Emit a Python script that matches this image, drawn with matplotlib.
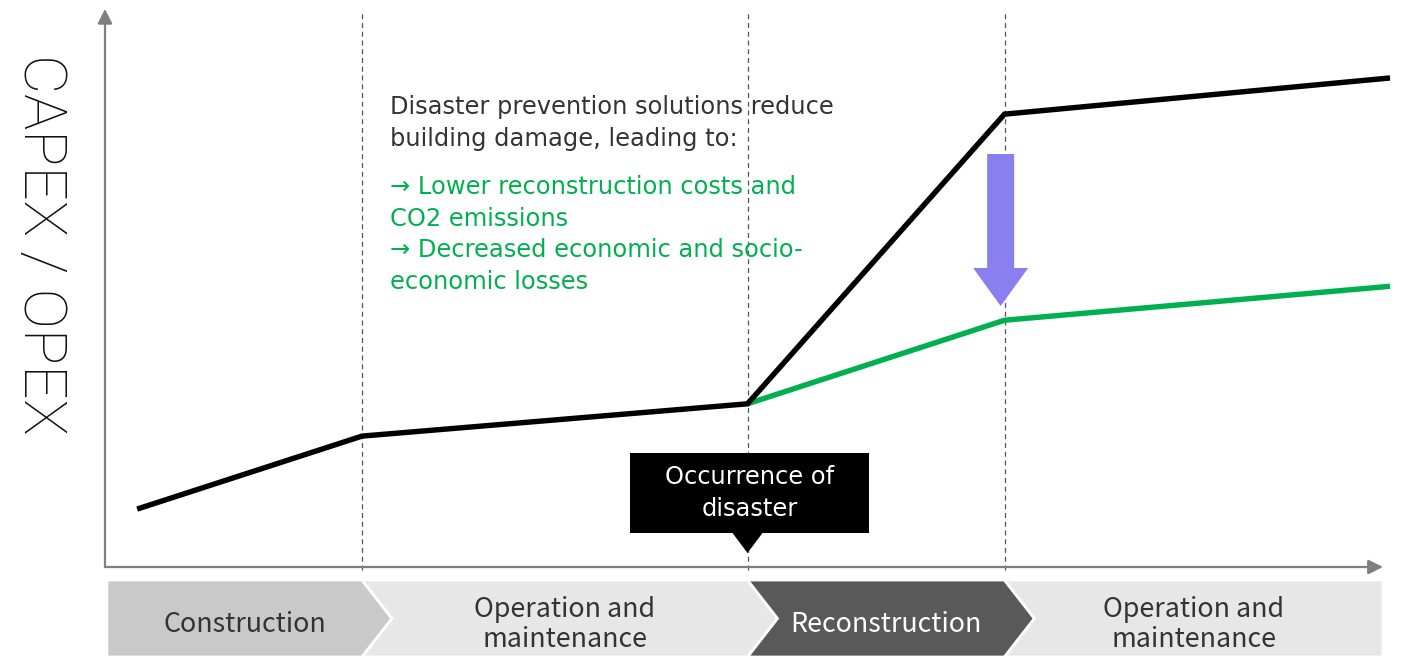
import matplotlib
matplotlib.use("Agg")
import matplotlib.pyplot as plt
from matplotlib.patches import Polygon

# ---- data ----
time_points = [2.5, 20, 50, 70, 100]
cost_without = [10.4, 23.5, 29.3, 81.3, 87.8]
time_with = [50, 70, 100]
cost_with = [29.3, 44.3, 50.4]
event_times = [20, 50, 70]
phase_bounds = [0.15, 20, 50, 70, 99.45]
phase_labels = ["Construction", "Operation and\nmaintenance", "Reconstruction", "Operation and\nmaintenance"]
phase_colors = ["#c9c9c9", "#e7e7e7", "#595959", "#e7e7e7"]
phase_text_colors = ["#333333", "#333333", "#ffffff", "#333333"]
ylabel = "CAPEX / OPEX"
note_lines = ["Disaster prevention solutions reduce", "building damage, leading to:"]
benefit_lines = ["\u2192 Lower reconstruction costs and", "CO2 emissions",
                 "\u2192 Decreased economic and socio-", "economic losses"]
event_label = "Occurrence of\ndisaster"

W, H = 1401, 657
fig = plt.figure(figsize=(W / 100, H / 100), dpi=100)

# main axes: pixels x 105..1390, y 10..567
ax = fig.add_axes([105 / W, (H - 567) / H, 1285 / W, 557 / H])
ax.set_xlim(0, 100)
ax.set_ylim(0, 100)
ax.axis("off")

font_note = ["DejaVu Sans"]
font_phase = ["Noto Sans CJK JP", "DejaVu Sans"]

# axes arrows
ax.annotate("", xy=(0, 100.2), xytext=(0, 0), xycoords="data",
            arrowprops=dict(arrowstyle="-|>", lw=1.6, color="#7f7f7f",
                            mutation_scale=22, shrinkA=0, shrinkB=0),
            annotation_clip=False)
ax.annotate("", xy=(99.45, 0), xytext=(0, 0), xycoords="data",
            arrowprops=dict(arrowstyle="-|>", lw=1.6, color="#7f7f7f",
                            mutation_scale=22, shrinkA=0, shrinkB=0),
            annotation_clip=False)

# dashed event lines
for t in event_times:
    ax.plot([t, t], [-0.6, 100], ls=(0, (4, 3)), lw=0.9, color="#555555",
            clip_on=False, zorder=1)

# cost lines
ax.plot(time_with, cost_with, color="#00b04f", lw=3.9, solid_capstyle="butt",
        solid_joinstyle="miter", clip_on=False, zorder=3)
ax.plot(time_points, cost_without, color="#000000", lw=3.9, solid_capstyle="butt",
        solid_joinstyle="miter", clip_on=False, zorder=4)

# purple reduction arrow
px_u = 1285 / 100.0
py_u = 557 / 100.0
xc = event_times[2] - 0.3
sw = 27 / px_u / 2
hw = 55 / px_u / 2
y_top = (567 - 154) / py_u
y_head = (567 - 268) / py_u
y_tip = (567 - 306) / py_u
arrow = Polygon([(xc - sw, y_top), (xc + sw, y_top), (xc + sw, y_head), (xc + hw, y_head),
                 (xc, y_tip), (xc - hw, y_head), (xc - sw, y_head)],
                closed=True, facecolor="#8a7ff0", edgecolor="none", zorder=5)
ax.add_patch(arrow)

# annotation text
tx = (390 - 105) / px_u
for i, line in enumerate(note_lines):
    ax.text(tx, (567 - (107 + 32 * i)) / py_u, line, color="#333333", fontsize=17.4,
            family=font_note, ha="left", va="center", zorder=6)
green_y = [187, 219, 250, 282]
for line, yy in zip(benefit_lines, green_y):
    ax.text(tx, (567 - yy) / py_u, line, color="#00b04f", fontsize=17.4,
            family=font_note, ha="left", va="center", zorder=6)

# event callout box
ev = event_times[1]
bx0 = (630 - 105) / px_u
bx1 = (869 - 105) / px_u
by0 = (567 - 533) / py_u
by1 = (567 - 453) / py_u
pw = 15 / px_u
ptip = (567 - 553) / py_u
box = Polygon([(bx0, by0), (bx0, by1), (bx1, by1), (bx1, by0), (ev + pw, by0),
               (ev, ptip), (ev - pw, by0)], closed=True, facecolor="black",
              edgecolor="none", zorder=6)
ax.add_patch(box)
ax.text((bx0 + bx1) / 2, (567 - 493) / py_u, event_label, color="white", fontsize=17.4,
        family=font_note, ha="center", va="center", linespacing=1.38, zorder=7)

# y label
fig.text(40 / W, 1 - 244 / H, ylabel, rotation=-90, ha="center", va="center",
         fontsize=43.5, family="Roboto", fontweight="light", color="#111111")

# phase bar: pixels y 580..657
bax = fig.add_axes([105 / W, 0, 1285 / W, 77 / H])
bax.set_xlim(0, 100)
bax.set_ylim(0, 1)
bax.axis("off")
tip = 30 / px_u
n = len(phase_labels)
for i in range(n):
    l, r = phase_bounds[i], phase_bounds[i + 1]
    pts = [(l, 1), (r, 1)]
    last = i == n - 1
    if not last:
        pts += [(r + tip, 0.5)]
    pts += [(r, 0), (l, 0)]
    if i > 0:
        pts += [(l + tip, 0.5)]
    bax.add_patch(Polygon(pts, closed=True, facecolor=phase_colors[i],
                          edgecolor="white", lw=2, zorder=2, clip_on=False))
    cx = (l + r) / 2 + (0.8 if not last else 0)
    bax.text(cx, 0.42, phase_labels[i], color=phase_text_colors[i], fontsize=19.3,
             family=font_phase, ha="center", va="center", linespacing=1.17, zorder=10)

fig.savefig("out.png", dpi=100)
